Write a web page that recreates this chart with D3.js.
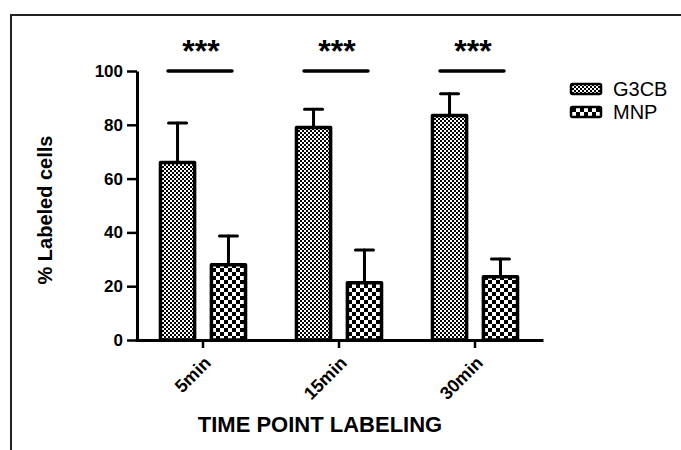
<!DOCTYPE html>
<html>
<head>
<meta charset="utf-8">
<script src="https://cdn.jsdelivr.net/npm/d3@7"></script>
<style>
	body { margin: 0; background: #fff; }
	svg { display: block; font-family: "Liberation Sans", Arial, sans-serif; }
</style>
</head>
<body>
<svg width="681" height="450"></svg>
<script>
const timePoints = ['5min', '15min', '30min'];
const seriesNames = ['G3CB', 'MNP'];
const g3cbMean = [66, 79, 83.5];
const g3cbErr = [14.7, 6.8, 8];
const mnpMean = [28, 21.3, 23.5];
const mnpErr = [10.7, 12.2, 6.6];
const yTicks = [0, 20, 40, 60, 80, 100];
const sigLabels = ['***', '***', '***'];

const svg = d3.select('svg');

// outer frame
svg.append('rect')
	.attr('x', 11).attr('y', 15)
	.attr('width', 700).attr('height', 500)
	.attr('fill', 'none')
	.attr('stroke', '#222')
	.attr('stroke-width', 2);

// fill patterns
const defs = svg.append('defs');
const fine = defs.append('pattern')
	.attr('id', 'fine')
	.attr('patternUnits', 'userSpaceOnUse')
	.attr('width', 4).attr('height', 4);
fine.append('rect').attr('width', 4).attr('height', 4).attr('fill', '#fff');
fine.append('rect').attr('width', 2).attr('height', 2).attr('fill', '#000');
fine.append('rect').attr('x', 2).attr('y', 2).attr('width', 2).attr('height', 2).attr('fill', '#000');

const coarse = defs.append('pattern')
	.attr('id', 'coarse')
	.attr('patternUnits', 'userSpaceOnUse')
	.attr('width', 8).attr('height', 8);
coarse.append('rect').attr('width', 8).attr('height', 8).attr('fill', '#fff');
coarse.append('rect').attr('width', 4).attr('height', 4).attr('fill', '#000');
coarse.append('rect').attr('x', 4).attr('y', 4).attr('width', 4).attr('height', 4).attr('fill', '#000');

const fills = { G3CB: 'url(#fine)', MNP: 'url(#coarse)' };

const x0 = d3.scaleBand().domain(timePoints).range([135, 543]);
const x1 = d3.scaleBand().domain(seriesNames).range([0, x0.bandwidth()])
	.paddingInner(0.33).paddingOuter(0.5);
const y = d3.scaleLinear().domain([0, 100]).range([340, 71]);

const data = [];
timePoints.forEach((t, i) => {
	data.push({ t: t, s: 'G3CB', v: g3cbMean[i], e: g3cbErr[i] });
	data.push({ t: t, s: 'MNP', v: mnpMean[i], e: mnpErr[i] });
});

// error bars (drawn under bars)
const err = svg.append('g')
	.attr('stroke', '#000')
	.attr('stroke-width', 3)
	.attr('stroke-linecap', 'round');
data.forEach(d => {
	const cx = x0(d.t) + x1(d.s) + x1.bandwidth() / 2;
	err.append('line')
		.attr('x1', cx).attr('x2', cx)
		.attr('y1', y(d.v)).attr('y2', y(d.v + d.e));
	err.append('line')
		.attr('x1', cx - 9).attr('x2', cx + 9)
		.attr('y1', y(d.v + d.e)).attr('y2', y(d.v + d.e));
});

// bars
svg.append('g').selectAll('rect')
	.data(data)
	.enter().append('rect')
	.attr('x', d => x0(d.t) + x1(d.s))
	.attr('y', d => y(d.v))
	.attr('width', x1.bandwidth())
	.attr('height', d => y(0) - y(d.v))
	.attr('fill', d => fills[d.s])
	.attr('stroke', '#000')
	.attr('stroke-width', 3.5)
	.attr('stroke-linejoin', 'round');

// y axis
const yAxis = svg.append('g')
	.attr('transform', 'translate(137,0)')
	.call(d3.axisLeft(y).tickValues(yTicks).tickSize(10).tickSizeOuter(0));
yAxis.select('.domain').attr('stroke-width', 3);
yAxis.selectAll('.tick line').attr('stroke-width', 2.5);
yAxis.selectAll('.tick text')
	.attr('x', -14)
	.attr('font-size', 17)
	.attr('font-weight', 'bold')
	.attr('fill', '#000')
	.attr('font-family', '"Liberation Sans", Arial, sans-serif');

// x axis
const xAxis = svg.append('g')
	.attr('transform', 'translate(0,340)')
	.call(d3.axisBottom(x0).tickSize(8).tickSizeOuter(0));
xAxis.select('.domain').attr('stroke-width', 3);
xAxis.selectAll('.tick line').attr('stroke-width', 2.5);
xAxis.selectAll('.tick text')
	.attr('font-size', 18)
	.attr('font-weight', 'bold')
	.attr('fill', '#000')
	.attr('font-family', '"Liberation Sans", Arial, sans-serif')
	.attr('text-anchor', 'end')
	.attr('dy', null)
	.attr('y', 0)
	.attr('transform', 'translate(9,24) rotate(-45)');

// axis titles
svg.append('text')
	.attr('transform', 'translate(52,210) rotate(-90)')
	.attr('text-anchor', 'middle')
	.attr('font-size', 20)
	.attr('font-weight', 'bold')
	.text('% Labeled cells');

svg.append('text')
	.attr('x', 320).attr('y', 432)
	.attr('text-anchor', 'middle')
	.attr('font-size', 22)
	.attr('font-weight', 'bold')
	.text('TIME POINT LABELING');

// significance lines and stars
timePoints.forEach((t, i) => {
	const cx = x0(t) + x0.bandwidth() / 2 - 3;
	svg.append('line')
		.attr('x1', cx - 32).attr('x2', cx + 32)
		.attr('y1', y(100)).attr('y2', y(100))
		.attr('stroke', '#000')
		.attr('stroke-width', 3.5)
		.attr('stroke-linecap', 'round');
	svg.append('text')
		.attr('x', cx + 1).attr('y', 62)
		.attr('text-anchor', 'middle')
		.attr('font-size', 32)
		.attr('font-weight', 'bold')
		.text(sigLabels[i]);
});

// legend
const legend = svg.append('g');
seriesNames.forEach((s, i) => {
	legend.append('rect')
		.attr('x', 571).attr('y', 84 + i * 23)
		.attr('width', 30).attr('height', 10)
		.attr('rx', 1.5)
		.attr('fill', fills[s])
		.attr('stroke', '#000')
		.attr('stroke-width', 2.5);
	legend.append('text')
		.attr('x', 613).attr('y', 96 + i * 23)
		.attr('font-size', 20)
		.text(s);
});
</script>
</body>
</html>
